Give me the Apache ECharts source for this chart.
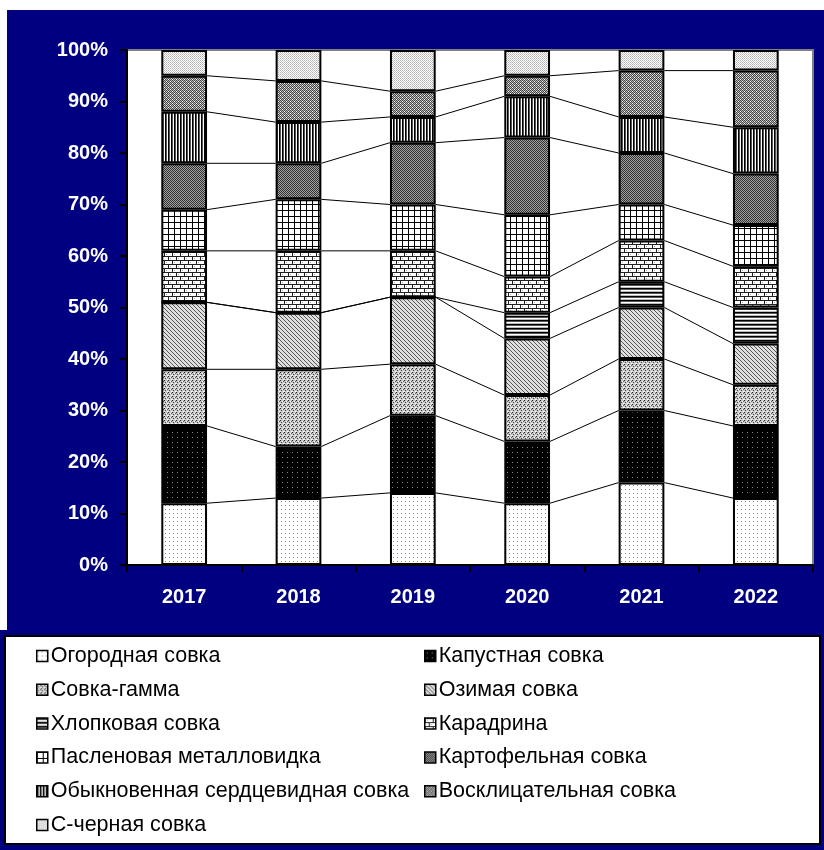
<!DOCTYPE html>
<html>
<head>
<meta charset="utf-8">
<script src="https://cdn.jsdelivr.net/npm/echarts@6/dist/echarts.min.js"></script>
<style>
html,body{margin:0;padding:0;background:#fff;}
#chart{width:824px;height:850px;}
</style>
</head>
<body>
<div id="chart"></div>
<script>
// ---- Data (percent shares per year) ----
const years = ['2017', '2018', '2019', '2020', '2021', '2022'];
const seriesNames = [
  'Огородная совка', 'Капустная совка', 'Совка-гамма', 'Озимая совка',
  'Хлопковая совка', 'Карадрина', 'Пасленовая металловидка', 'Картофельная совка',
  'Обыкновенная сердцевидная совка', 'Восклицательная совка', 'С-черная совка'
];
const ogorodnaya     = [12, 13, 14, 12, 16, 13];
const kapustnaya     = [15, 10, 15, 12, 14, 14];
const sovkaGamma     = [11, 15, 10,  9, 10,  8];
const ozimaya        = [13, 11, 13, 11, 10,  8];
const hlopkovaya     = [ 0,  0,  0,  5,  5,  7];
const karadrina      = [10, 12,  9,  7,  8,  8];
const paslenovaya    = [ 8, 10,  9, 12,  7,  8];
const kartofelnaya   = [ 9,  7, 12, 15, 10, 10];
const serdcevidnaya  = [10,  8,  5,  8,  7,  9];
const vosklitsatelnaya = [7, 8,  5,  4,  9, 11];
const cChernaya      = [ 5,  6,  8,  5,  4,  4];
const yTickValues = [0, 10, 20, 30, 40, 50, 60, 70, 80, 90, 100];

const seriesValues = [ogorodnaya, kapustnaya, sovkaGamma, ozimaya, hlopkovaya, karadrina,
  paslenovaya, kartofelnaya, serdcevidnaya, vosklitsatelnaya, cChernaya];

// ---- Pattern fills ----
function pat(w, h, bg, draw) {
  const c = document.createElement('canvas');
  c.width = w; c.height = h;
  const g = c.getContext('2d');
  g.fillStyle = bg; g.fillRect(0, 0, w, h);
  draw(g);
  return { image: c, repeat: 'repeat' };
}
function px(g, x, y, col) { g.fillStyle = col; g.fillRect(x, y, 1, 1); }

const patterns = [
  // Огородная: white with sparse dots
  pat(4, 4, '#ffffff', g => { px(g, 1, 1, '#888'); }),
  // Капустная: black with sparse light dots
  pat(5, 5, '#000000', g => { px(g, 2, 2, '#888'); }),
  // Совка-гамма: grey speckle
  pat(4, 4, '#c4c4c4', g => { px(g, 0, 0, '#222'); px(g, 2, 1, '#fff'); px(g, 1, 2, '#444'); px(g, 3, 3, '#fff'); px(g, 3, 1, '#666'); px(g, 0, 3, '#eee'); }),
  // Озимая: diagonal lines
  pat(4, 4, '#e0e0e0', g => { for (let i = 0; i < 4; i++) px(g, i, i, '#555'); }),
  // Хлопковая: horizontal lines
  pat(4, 4, '#ffffff', g => { g.fillStyle = '#000'; g.fillRect(0, 0, 4, 1); g.fillStyle = '#555'; g.fillRect(0, 1, 4, 1); g.fillStyle = '#bbb'; g.fillRect(0, 3, 4, 1); }),
  // Карадрина: bricks
  pat(8, 8, '#ffffff', g => {
    g.fillStyle = '#222'; g.fillRect(0, 0, 8, 1); g.fillRect(0, 4, 8, 1);
    g.fillRect(0, 1, 1, 3); g.fillRect(4, 5, 1, 3);
    g.fillStyle = '#aaa'; g.fillRect(2, 2, 1, 1); g.fillRect(6, 6, 1, 1);
  }),
  // Пасленовая: grid
  pat(6, 6, '#ffffff', g => { g.fillStyle = '#000'; g.fillRect(0, 0, 6, 1); g.fillRect(0, 0, 1, 6); }),
  // Картофельная: dark checker
  pat(2, 2, '#333333', g => { px(g, 1, 0, '#a0a0a0'); px(g, 0, 1, '#a0a0a0'); }),
  // Обыкновенная сердцевидная: vertical lines
  pat(3, 3, '#ffffff', g => { g.fillStyle = '#000'; g.fillRect(0, 0, 1, 3); g.fillStyle = '#555'; g.fillRect(1, 0, 1, 3); }),
  // Восклицательная: medium checker
  pat(4, 4, '#444444', g => { px(g, 1, 0, '#bbb'); px(g, 3, 0, '#bbb'); px(g, 0, 1, '#bbb'); px(g, 2, 1, '#fff'); px(g, 1, 2, '#bbb'); px(g, 3, 2, '#bbb'); px(g, 0, 3, '#fff'); px(g, 2, 3, '#bbb'); }),
  // С-черная: light checker
  pat(2, 2, '#ffffff', g => { px(g, 0, 0, '#b0b0b0'); px(g, 1, 1, '#c8c8c8'); })
];

// ---- Connector lines between stacked boundaries ----
const connectorData = [];
for (let k = 0; k < seriesValues.length - 1; k++) {
  const cum = years.map((_, i) => {
    let s = 0;
    for (let j = 0; j <= k; j++) s += seriesValues[j][i];
    return s;
  });
  for (let i = 0; i < years.length - 1; i++) {
    connectorData.push([i, cum[i], cum[i + 1]]);
  }
}
const BAR_FRAC = 0.4;

const FONT = '"Liberation Sans", Arial, sans-serif';

const barSeries = seriesNames.map((name, idx) => ({
  name: name,
  type: 'bar',
  stack: 'total',
  barWidth: (BAR_FRAC * 100) + '%',
  data: seriesValues[idx],
  itemStyle: { color: patterns[idx], borderColor: '#000', borderWidth: 2 },
  emphasis: { disabled: true },
  z: 3
}));

const connectorSeries = {
  type: 'custom',
  name: 'connectors',
  data: connectorData,
  encode: { x: 0, y: [1, 2] },
  silent: true,
  z: 2,
  renderItem: function (params, api) {
    const i = api.value(0);
    const p1 = api.coord([i, api.value(1)]);
    const p2 = api.coord([i + 1, api.value(2)]);
    const half = api.size([1, 0])[0] * BAR_FRAC / 2;
    return {
      type: 'line',
      shape: { x1: p1[0] + half, y1: p1[1], x2: p2[0] - half, y2: p2[1] },
      style: { stroke: '#000', lineWidth: 1 }
    };
  }
};

const legendCommon = {
  orient: 'vertical',
  top: 645,
  padding: 0,
  itemWidth: 11,
  itemHeight: 11,
  itemGap: 11.8,
  selectedMode: false,
  icon: 'rect',
  itemStyle: { borderColor: '#000', borderWidth: 1.5 },
  textStyle: { fontSize: 21.5, color: '#000', fontFamily: FONT, lineHeight: 20, height: 20, padding: [0, 0, 0, -2] }
};

const chart = echarts.init(document.getElementById('chart'), null, { renderer: 'canvas' });
chart.setOption({
  animation: false,
  backgroundColor: '#000080',
  graphic: [
    { type: 'rect', shape: { x: 0, y: 0, width: 824, height: 10 }, style: { fill: '#fff' }, z: -10, silent: true },
    { type: 'rect', shape: { x: 0, y: 0, width: 7, height: 630 }, style: { fill: '#fff' }, z: -10, silent: true },
    { type: 'rect', shape: { x: 5, y: 636, width: 815, height: 208 }, style: { fill: '#fff', stroke: '#000', lineWidth: 2 }, z: -5, silent: true }
  ],
  grid: {
    left: 127, right: 11, top: 50, bottom: 285,
    show: true, backgroundColor: '#ffffff', borderColor: '#808080', borderWidth: 2
  },
  legend: [
    Object.assign({}, legendCommon, { left: 36, data: seriesNames.filter((_, i) => i % 2 === 0) }),
    Object.assign({}, legendCommon, { left: 424, data: seriesNames.filter((_, i) => i % 2 === 1) })
  ],
  xAxis: {
    type: 'category',
    data: years,
    axisLine: { lineStyle: { color: '#000', width: 2 } },
    axisTick: { show: true, length: 7, lineStyle: { color: '#000', width: 2 } },
    axisLabel: { color: '#fff', fontWeight: 'bold', fontSize: 20, fontFamily: FONT, margin: 22 }
  },
  yAxis: {
    type: 'value',
    min: yTickValues[0],
    max: yTickValues[yTickValues.length - 1],
    interval: yTickValues[1] - yTickValues[0],
    axisLine: { show: true, lineStyle: { color: '#000', width: 2 } },
    axisTick: { show: true, length: 7, lineStyle: { color: '#000', width: 2 } },
    splitLine: { show: false },
    axisLabel: { color: '#fff', fontWeight: 'bold', fontSize: 20, fontFamily: FONT, margin: 19, formatter: '{value}%' }
  },
  series: barSeries.concat([connectorSeries])
});
</script>
</body>
</html>
